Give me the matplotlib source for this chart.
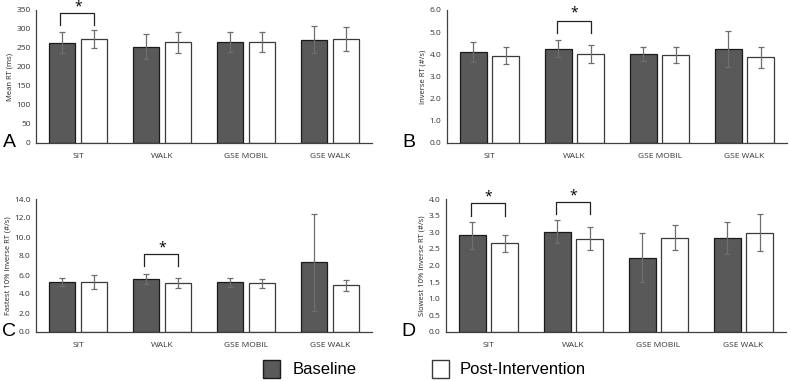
import numpy as np
import matplotlib
matplotlib.use("Agg")
import matplotlib.pyplot as plt
from matplotlib.patches import Rectangle

categories = ["SIT", "WALK", "GSE MOBIL", "GSE WALK"]

# panel A: mean RT (ms)
mean_base = [264, 253, 266, 272]
mean_base_err = [27, 33, 27, 36]
mean_post = [273, 265, 265, 274]
mean_post_err = [24, 28, 26, 32]

# panel B: inverse RT (#/s)
inv_base = [4.09, 4.26, 4.02, 4.24]
inv_base_err = [0.45, 0.39, 0.33, 0.81]
inv_post = [3.94, 4.02, 3.98, 3.86]
inv_post_err = [0.37, 0.39, 0.36, 0.47]

# panel C: fastest 10% inverse RT
fast_base = [5.25, 5.57, 5.25, 7.32]
fast_base_err = [0.45, 0.50, 0.47, 5.08]
fast_post = [5.25, 5.15, 5.11, 4.90]
fast_post_err = [0.73, 0.55, 0.50, 0.56]

# panel D: slowest 10% inverse RT
slow_base = [2.91, 3.02, 2.24, 2.83]
slow_base_err = [0.40, 0.35, 0.75, 0.47]
slow_post = [2.67, 2.81, 2.84, 2.99]
slow_post_err = [0.25, 0.35, 0.37, 0.55]

W, H = 790, 381
fig = plt.figure(figsize=(W / 100, H / 100), dpi=100)
plt.rcParams['font.family'] = ['Open Sans', 'DejaVu Sans']

def px_axes(left, top, right, bottom):
    return fig.add_axes([left / W, 1 - bottom / H, (right - left) / W, (bottom - top) / H])

def panel(ax, base, base_err, post, post_err, ymax, step, fmt, ylabel, letter, sig, letter_x=-0.13):
    x = np.arange(len(categories))
    bw = 0.31
    off = 0.19
    ax.bar(x - off, base, bw, color="#595959", edgecolor="#1a1a1a", linewidth=0.9, zorder=2)
    ax.bar(x + off, post, bw, color="white", edgecolor="#3a3a3a", linewidth=0.9, zorder=2)
    ax.errorbar(x - off, base, yerr=base_err, fmt="none", ecolor="#6e6e6e", elinewidth=0.9, capsize=2, capthick=0.9, zorder=3)
    ax.errorbar(x + off, post, yerr=post_err, fmt="none", ecolor="#6e6e6e", elinewidth=0.9, capsize=2, capthick=0.9, zorder=3)
    ax.set_xlim(-0.5, len(categories) - 0.5)
    ax.set_ylim(0, ymax)
    ax.set_yticks(np.arange(0, ymax + step / 2, step))
    ax.yaxis.set_major_formatter(plt.FormatStrFormatter(fmt))
    ax.set_xticks(x)
    ax.set_xticklabels(categories)
    ax.tick_params(axis="both", length=0, labelsize=6, colors="#333333", pad=4)
    ax.tick_params(axis="x", pad=7)
    for s in ["top", "right"]:
        ax.spines[s].set_visible(False)
    for s in ["left", "bottom"]:
        ax.spines[s].set_color("#404040")
        ax.spines[s].set_linewidth(0.9)
    ax.set_ylabel(ylabel, fontsize=5.5, color="#222222", labelpad=2)
    for i, top, leg, star in sig:
        xl, xr = i - off - 0.02, i + off
        ax.plot([xl, xl, xr, xr], [leg, top, top, leg], color="#222222", lw=0.9, clip_on=False)
        ax.text(i, star, "*", ha="center", va="center", fontsize=10, clip_on=False)
    ax.text(letter_x, 0.0, letter, transform=ax.transAxes, fontsize=14, family="Liberation Sans",
            ha="left", va="center")

axA = px_axes(36, 10, 372, 143)
panel(axA, mean_base, mean_base_err, mean_post, mean_post_err, 350, 50, "%d", "Mean RT (ms)", "A",
      [(0, 342, 311, 358)], letter_x=-0.098)
axB = px_axes(447, 10, 787, 143)
panel(axB, inv_base, inv_base_err, inv_post, inv_post_err, 6.0, 1.0, "%.1f", "Inverse RT (#/s)", "B",
      [(1, 5.52, 4.96, 5.85)])
axC = px_axes(36, 199, 372, 332)
panel(axC, fast_base, fast_base_err, fast_post, fast_post_err, 14.0, 2.0, "%.1f", "Fastest 10% Inverse RT (#/s)", "C",
      [(1, 8.19, 7.0, 8.8)], letter_x=-0.1)
axD = px_axes(446, 199, 786, 332)
panel(axD, slow_base, slow_base_err, slow_post, slow_post_err, 4.0, 0.5, "%.1f", "Slowest 10% Inverse RT (#/s)", "D",
      [(0, 3.87, 3.5, 4.05), (1, 3.92, 3.55, 4.1)])

# legend
fig.patches.append(Rectangle((263 / W, 1 - 378 / H), 17 / W, 18 / H, transform=fig.transFigure,
                             facecolor="#595959", edgecolor="#1a1a1a", linewidth=1))
fig.text(293 / W, 1 - 369 / H, "Baseline", fontsize=12, family="Liberation Sans", va="center")
fig.patches.append(Rectangle((432 / W, 1 - 378 / H), 17 / W, 18 / H, transform=fig.transFigure,
                             facecolor="white", edgecolor="#3a3a3a", linewidth=1))
fig.text(460 / W, 1 - 369 / H, "Post-Intervention", fontsize=12, family="Liberation Sans", va="center")

fig.savefig("out.png", dpi=100)
